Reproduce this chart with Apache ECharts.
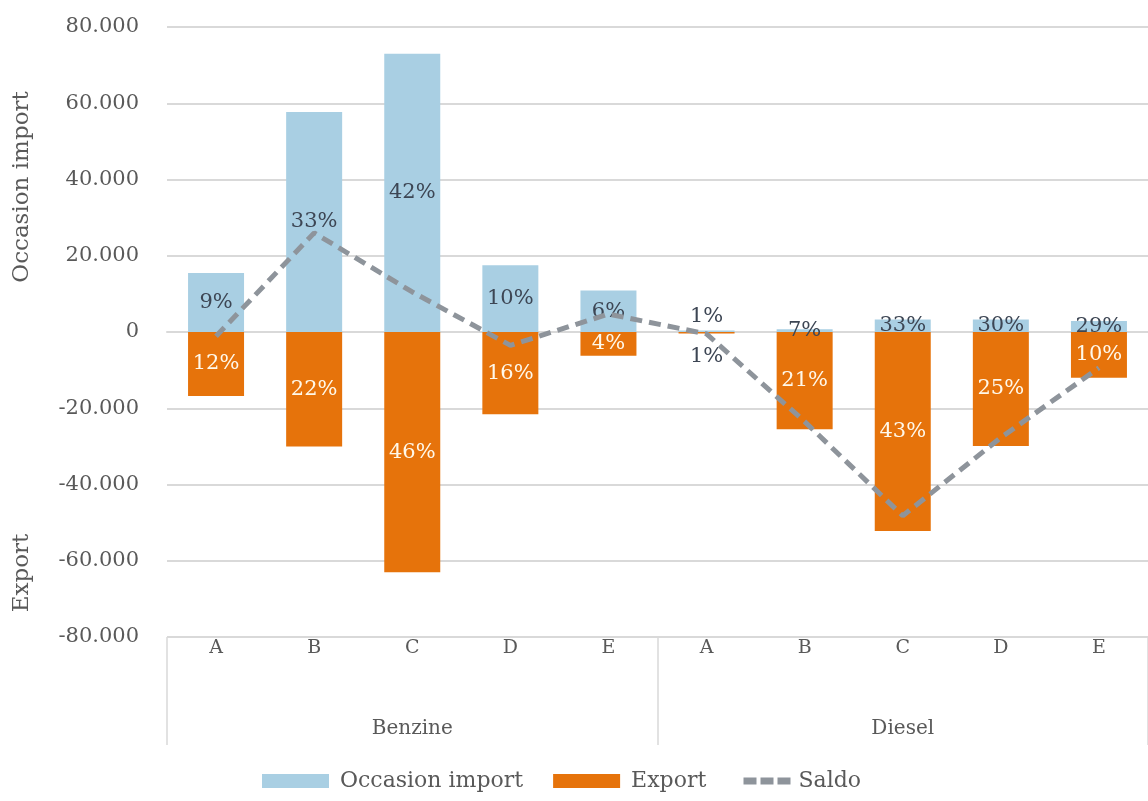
<!DOCTYPE html>
<html>
<head>
<meta charset="utf-8">
<script src="https://cdn.jsdelivr.net/npm/echarts@6/dist/echarts.min.js"></script>
<style>
html,body{margin:0;padding:0;background:#fff;}
#chart{width:1148px;height:801px;}
</style>
</head>
<body>
<div id="chart"></div>
<script>
var categories = ['A','B','C','D','E','A','B','C','D','E'];
var groups = ['Benzine','Diesel'];
var importValues = [15500, 57700, 73000, 17500, 10900, 400, 700, 3300, 3300, 2900];
var exportValues = [-16800, -30000, -63000, -21600, -6200, -400, -25500, -52200, -29900, -12000];
var saldoValues = [-1100, 26000, 10500, -3500, 4700, -500, -23500, -48200, -27700, -9400];
var importPct = ['9%','33%','42%','10%','6%','1%','7%','33%','30%','29%'];
var exportPct = ['12%','22%','46%','16%','4%','1%','21%','43%','25%','10%'];
var yTicks = { min: -80000, max: 80000, interval: 20000 };

var FONT = 'DejaVu Serif';
var GREY = '#595959';

function fmt(v){
  var s = Math.abs(v).toString().replace(/\B(?=(\d{3})+(?!\d))/g, '.');
  return (v < 0 ? '-' : '') + s;
}

var importData = importValues.map(function(v, i){
  var d = { value: v, label: { formatter: importPct[i] } };
  if (Math.abs(v) < 600) { d.label.position = 'top'; d.label.distance = 3; }
  return d;
});
var exportData = exportValues.map(function(v, i){
  var d = { value: v, label: { formatter: exportPct[i] } };
  if (Math.abs(v) < 600) { d.label.position = 'bottom'; d.label.distance = 13; d.label.color = '#3d4654'; }
  return d;
});

var chart = echarts.init(document.getElementById('chart'), null, { renderer: 'canvas' });
chart.setOption({
  animation: false,
  backgroundColor: '#ffffff',
  textStyle: { fontFamily: FONT },
  grid: { left: 167, top: 27, width: 987, height: 610, containLabel: false },
  legend: [
    {
      top: 770,
      left: 262,
      padding: 0,
      itemWidth: 67,
      itemHeight: 14,
      itemGap: 30,
      textStyle: { fontFamily: FONT, fontSize: 22, color: GREY, padding: [0, 0, 0, 6] },
      data: [
        { name: 'Occasion import', icon: 'rect' },
        { name: 'Export', icon: 'rect' }
      ]
    },
    {
      top: 770,
      left: 740,
      padding: 0,
      itemWidth: 48,
      itemHeight: 14,
      itemStyle: { opacity: 0 },
      lineStyle: { width: 7, type: [13, 4], color: '#8e949b' },
      textStyle: { fontFamily: FONT, fontSize: 22, color: GREY, padding: [0, 0, 0, 2] },
      data: ['Saldo']
    }
  ],
  xAxis: [
    {
      type: 'category',
      data: categories,
      position: 'bottom',
      axisLine: { show: true, lineStyle: { color: '#d9d9d9', width: 2 } },
      axisTick: { show: false },
      axisLabel: { margin: 2, fontFamily: FONT, fontSize: 19, color: GREY, interval: 0 },
      splitLine: { show: false }
    },
    {
      type: 'category',
      data: groups,
      position: 'bottom',
      gridIndex: 0,
      axisLine: { show: false },
      axisTick: { show: true, interval: 0, length: 108, lineStyle: { color: '#d9d9d9', width: 1.5 } },
      axisLabel: { margin: 82, fontFamily: FONT, fontSize: 20, color: GREY, interval: 0 },
      splitLine: { show: false }
    }
  ],
  yAxis: {
    type: 'value',
    min: yTicks.min,
    max: yTicks.max,
    interval: yTicks.interval,
    axisLine: { show: false },
    axisTick: { show: false },
    axisLabel: { margin: 28, fontFamily: FONT, fontSize: 21, color: GREY, formatter: fmt },
    splitLine: { show: true, lineStyle: { color: '#d9d9d9', width: 2 } }
  },
  graphic: [
    { type: 'text', x: 22, y: 187, rotation: Math.PI/2, style: { text: 'Occasion import', font: '23px "DejaVu Serif"', fill: GREY, align: 'center', verticalAlign: 'middle' } },
    { type: 'text', x: 22, y: 573, rotation: Math.PI/2, style: { text: 'Export', font: '23px "DejaVu Serif"', fill: GREY, align: 'center', verticalAlign: 'middle' } }
  ],
  series: [
    {
      name: 'Occasion import',
      type: 'bar',
      xAxisIndex: 0,
      data: importData,
      barWidth: 56,
      barGap: '-100%',
      itemStyle: { color: '#a9cfe3' },
      label: { show: true, position: 'inside', fontFamily: FONT, fontSize: 21, color: '#3d4654' },
      z: 2
    },
    {
      name: 'Export',
      type: 'bar',
      xAxisIndex: 0,
      data: exportData,
      barWidth: 56,
      barGap: '-100%',
      itemStyle: { color: '#e6730b' },
      label: { show: true, position: 'inside', fontFamily: FONT, fontSize: 21, color: '#fff8ea' },
      z: 2
    },
    {
      name: 'Saldo',
      type: 'line',
      xAxisIndex: 0,
      data: saldoValues,
      symbol: 'none',
      lineStyle: { color: '#8e949b', width: 5, type: [12, 7] },
      itemStyle: { color: '#8e949b' },
      z: 3
    }
  ]
});
</script>
</body>
</html>
